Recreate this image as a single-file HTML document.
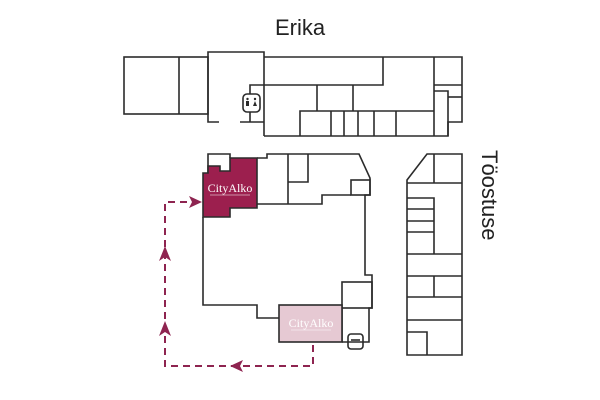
<!DOCTYPE html>
<html><head><meta charset="utf-8"><style>body{margin:0;background:#fff}svg{display:block}</style></head><body>
<svg width="600" height="400" viewBox="0 0 600 400" xmlns="http://www.w3.org/2000/svg" font-family="Liberation Sans, sans-serif">
<rect width="600" height="400" fill="#fff"/>
<text x="300" y="35" font-size="22" text-anchor="middle" fill="#222">Erika</text>
<text transform="translate(482,150) rotate(90)" font-size="22" fill="#222">Töostuse</text>
<g fill="none" stroke="#2b2b2b" stroke-width="1.6">
<rect x="124" y="57" width="84" height="57"/>
<line x1="179" y1="57" x2="179" y2="114"/>
<polyline points="219,122 208,122 208,52 264,52 264,136"/>
<line x1="240" y1="122" x2="264" y2="122"/>
<polyline points="264,57 462,57 462,122 448,122 448,136 264,136"/>
<polyline points="250,94 250,85 383,85 383,57"/>
<line x1="250" y1="112" x2="250" y2="122"/>
<line x1="317" y1="85" x2="317" y2="111"/><line x1="353" y1="85" x2="353" y2="111"/>
<polyline points="300,136 300,111 434,111"/>
<line x1="331" y1="111" x2="331" y2="136"/><line x1="344" y1="111" x2="344" y2="136"/><line x1="358" y1="111" x2="358" y2="136"/><line x1="374" y1="111" x2="374" y2="136"/><line x1="396" y1="111" x2="396" y2="136"/>
<line x1="434" y1="57" x2="434" y2="136"/>
<line x1="434" y1="85" x2="462" y2="85"/>
<polyline points="434,91 448,91 448,136"/>
<line x1="448" y1="97" x2="462" y2="97"/>
<rect x="243" y="94" width="17" height="18" rx="4"/>
<polyline points="208,173 208,154 230,154 230,158"/>
<polyline points="257,158 267,158 267,154 359,154 370,178 370,195 365,195 365,275 372,275 372,308 369,308 369,342 342,342"/>
<rect x="351" y="180" width="19" height="15"/>
<polyline points="288,154 288,204"/><polyline points="288,182 308,182 308,154"/>
<polyline points="257,204 322,204 322,195 351,195"/>
<polyline points="203,217 203,305 257,305 257,318 279,318"/>
<rect x="342" y="282" width="30" height="26"/>
<line x1="342" y1="308" x2="342" y2="342"/>
<rect x="348" y="334" width="15" height="15" rx="3"/>
<line x1="351" y1="340" x2="360" y2="340"/>
<polygon points="407,180 427,154 462,154 462,355 407,355"/>
<line x1="434" y1="154" x2="434" y2="183"/>
<line x1="407" y1="183" x2="462" y2="183"/>
<polyline points="407,198 434,198 434,254"/>
<line x1="407" y1="209" x2="434" y2="209"/><line x1="407" y1="221" x2="434" y2="221"/><line x1="407" y1="232" x2="434" y2="232"/>
<line x1="407" y1="254" x2="462" y2="254"/><line x1="407" y1="276" x2="462" y2="276"/>
<line x1="434" y1="276" x2="434" y2="297"/>
<line x1="407" y1="297" x2="462" y2="297"/><line x1="407" y1="320" x2="462" y2="320"/>
<polyline points="407,332 427,332 427,355"/>
</g>
<g fill="#2b2b2b">
<circle cx="247.5" cy="99" r="1.2"/><rect x="246" y="101" width="3" height="5"/>
<circle cx="255" cy="99" r="1.2"/><polygon points="255,101 253,106 257,106"/>
</g>
<polygon points="203,173 208,173 208,166 220,166 220,171 230,171 230,158 257,158 257,208 230,208 230,217 203,217" fill="#9c1f4e" stroke="#2b2b2b" stroke-width="1.6"/>
<text x="230" y="192" font-size="12" font-family="Liberation Serif, serif" text-anchor="middle" fill="#fff">CityAlko</text>
<line x1="210" y1="195" x2="250" y2="195" stroke="#fff" stroke-width="0.6"/>
<rect x="279" y="305" width="63" height="37" fill="#e6c9d3" stroke="#2b2b2b" stroke-width="1.6"/>
<text x="311" y="327" font-size="12" font-family="Liberation Serif, serif" text-anchor="middle" fill="#fff">CityAlko</text>
<line x1="291" y1="330" x2="331" y2="330" stroke="#fff" stroke-width="0.6"/>
<polyline points="313,345 313,366 165,366 165,202 192,202" fill="none" stroke="#8e2450" stroke-width="2" stroke-dasharray="7,5"/>
<g fill="#8e2450">
<polygon points="202,202 189,196 192,202 189,208"/>
<polygon points="230,366 243,360 240,366 243,372"/>
<polygon points="165,246 159,261 165,257 171,261"/>
<polygon points="165,321 159,336 165,332 171,336"/>
</g>
</svg>
</body></html>
